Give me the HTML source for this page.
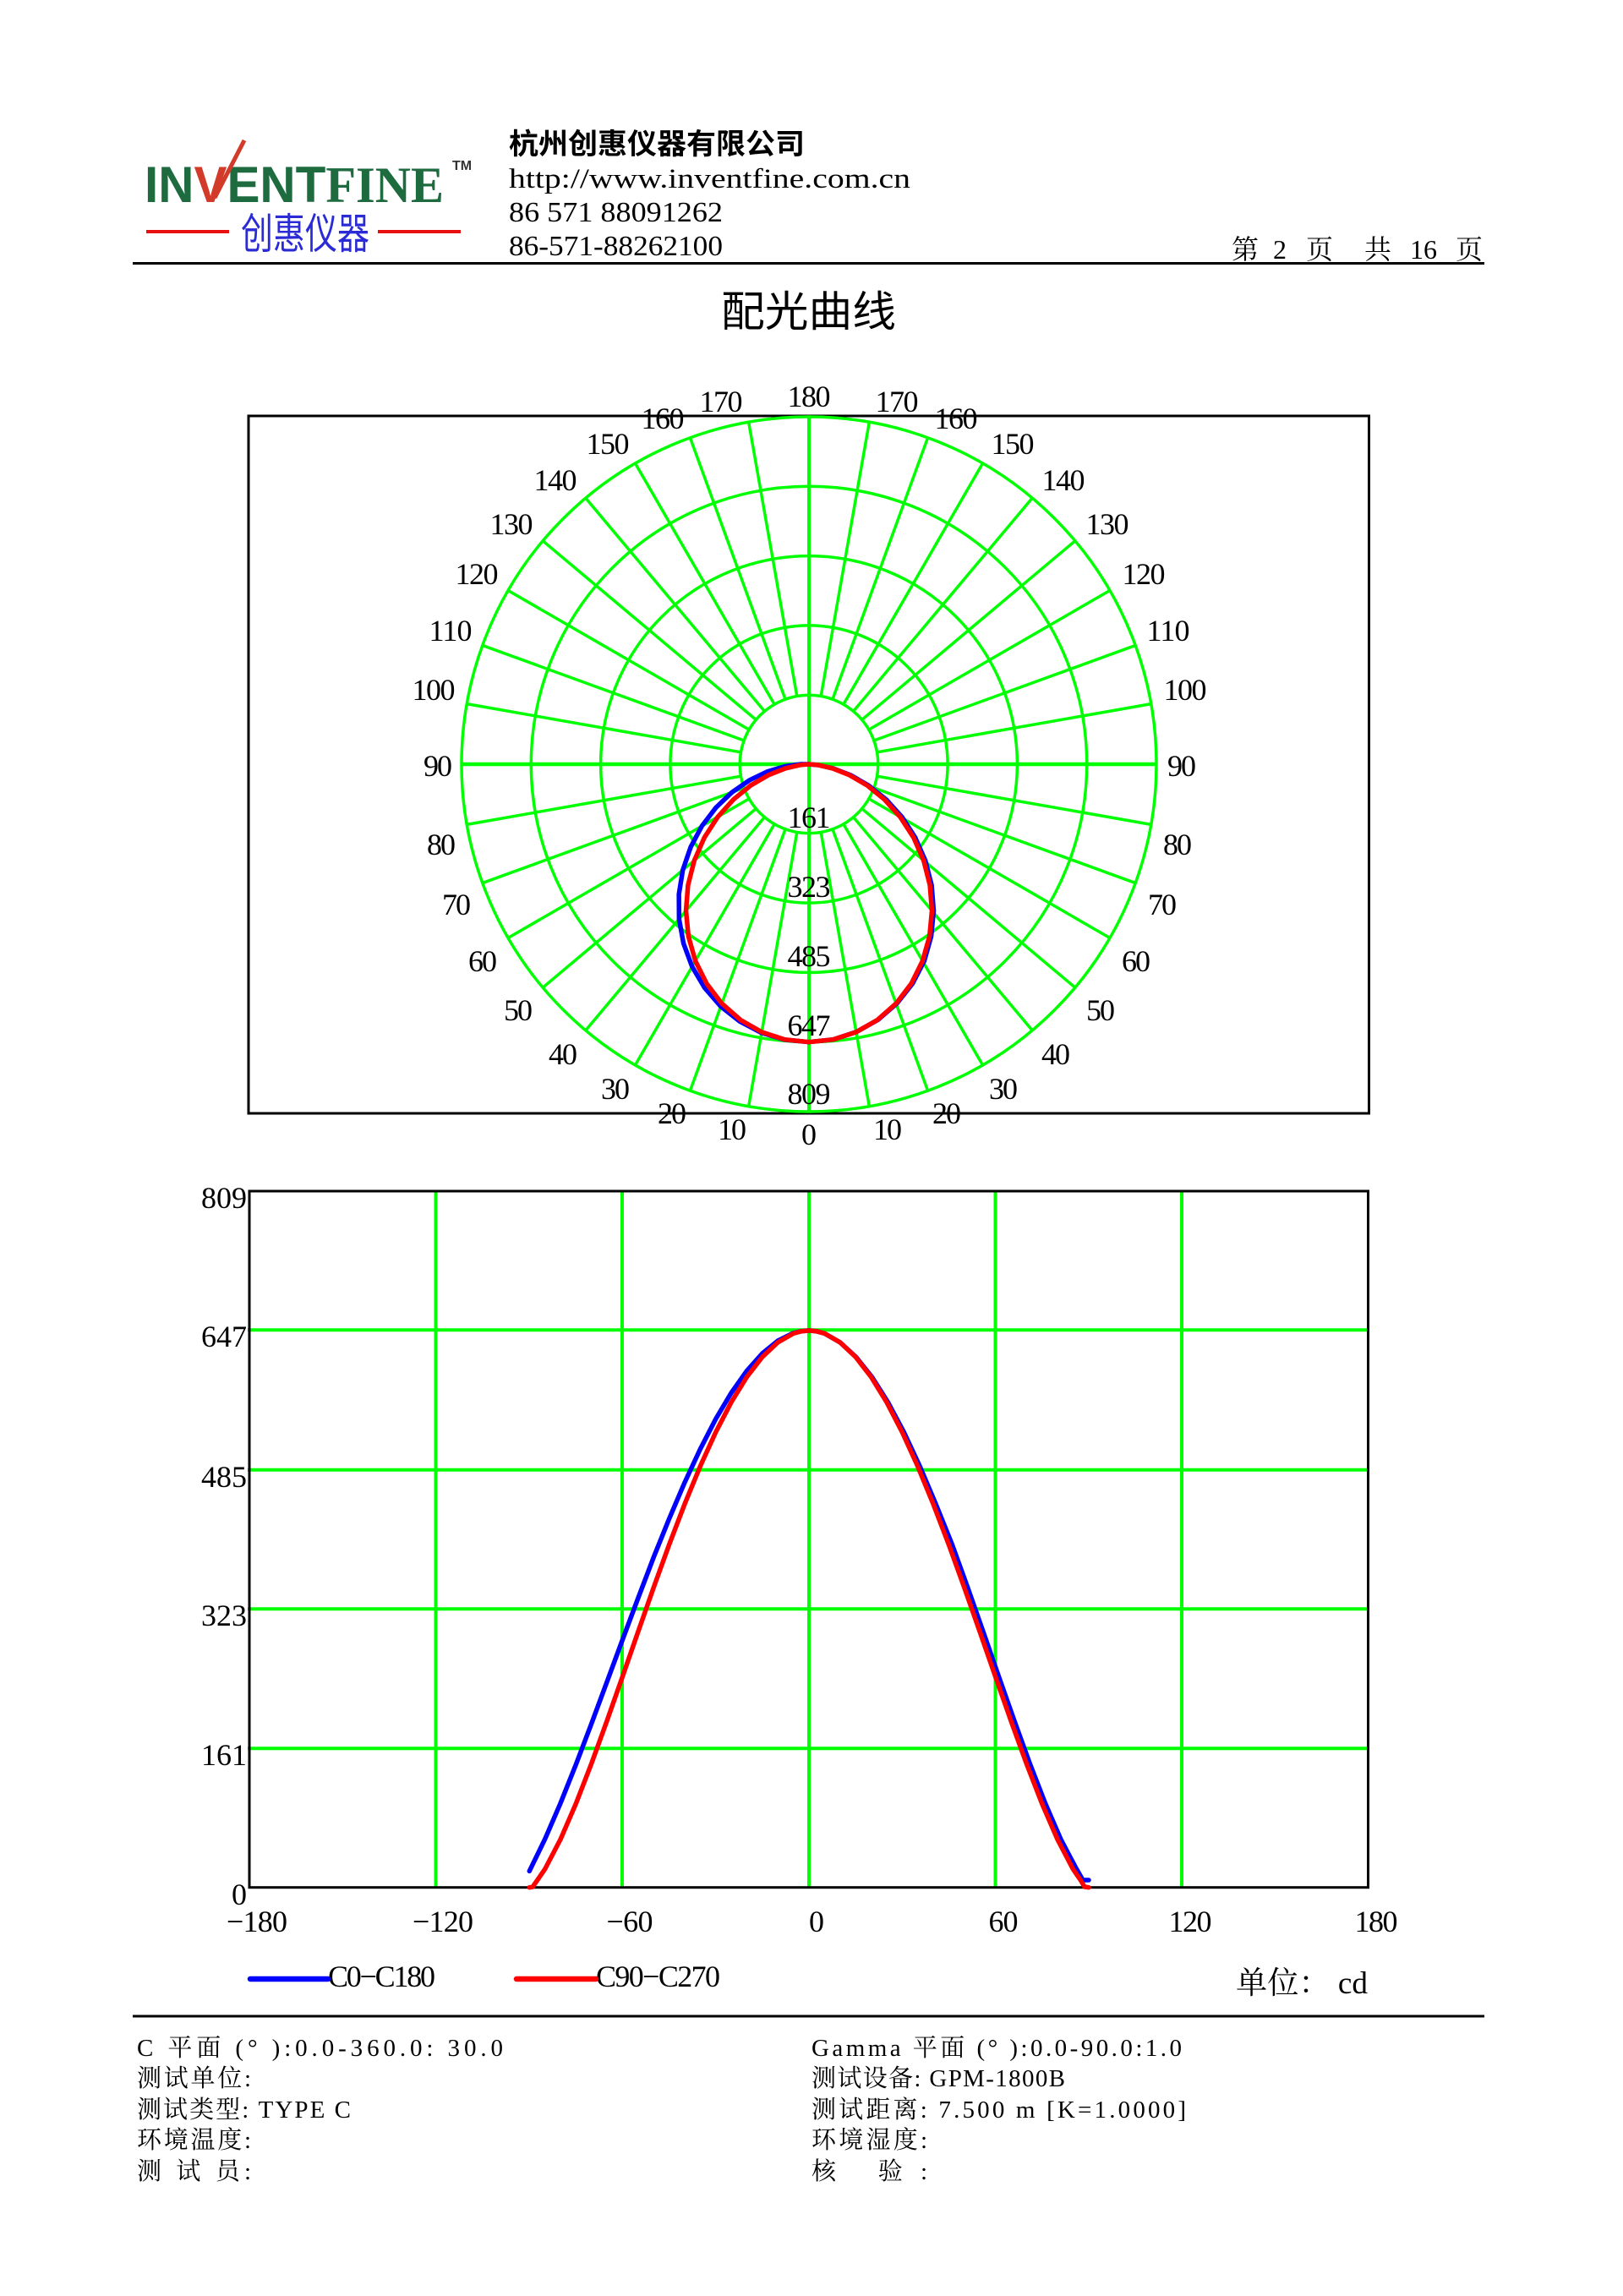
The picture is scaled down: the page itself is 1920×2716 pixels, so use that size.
<!DOCTYPE html>
<html><head><meta charset="utf-8"><style>
html,body{margin:0;padding:0;background:#fff;}
svg{display:block;}
</style></head><body>
<svg xmlns="http://www.w3.org/2000/svg" width="1920" height="2716" viewBox="0 0 1920 2716">
<rect width="1920" height="2716" fill="#fff"/>

<!-- Logo -->
<text x="171" y="239" font-family="'Liberation Sans',sans-serif" font-weight="bold" font-size="60" textLength="354" lengthAdjust="spacingAndGlyphs" fill="#1e6b40">IN<tspan fill="#d23a2a">V</tspan>ENT<tspan font-family="'Liberation Serif',serif">FINE</tspan></text>
<line x1="254" y1="234" x2="289" y2="166" stroke="#d23a2a" stroke-width="5"/>
<text x="535" y="201" font-family="'Liberation Sans',sans-serif" font-weight="bold" font-size="16" fill="#333">TM</text>
<rect x="173" y="272" width="98" height="4" fill="#e81010"/>
<rect x="447" y="272" width="98" height="4" fill="#e81010"/>
<text x="285" y="294" font-family="'Noto Sans CJK SC',sans-serif" font-size="50" textLength="152" lengthAdjust="spacingAndGlyphs" fill="#2b2bd6">创惠仪器</text>

<!-- Header text -->
<text x="602" y="182" font-family="'Liberation Sans','Noto Sans CJK SC',sans-serif" font-weight="bold" font-size="34" textLength="350" lengthAdjust="spacingAndGlyphs">杭州创惠仪器有限公司</text>
<text x="602" y="222" font-family="'Liberation Serif',serif" font-size="33" textLength="475" lengthAdjust="spacingAndGlyphs">http://www.inventfine.com.cn</text>
<text x="602" y="262" font-family="'Liberation Serif',serif" font-size="34" textLength="253" lengthAdjust="spacingAndGlyphs">86 571 88091262</text>
<text x="602" y="302" font-family="'Liberation Serif',serif" font-size="34" textLength="253" lengthAdjust="spacingAndGlyphs">86-571-88262100</text>
<g font-family="'Liberation Serif','Noto Serif CJK SC',serif" font-size="32">
<text x="1457" y="306">第</text>
<text x="1506" y="306">2</text>
<text x="1545" y="306">页</text>
<text x="1614" y="306">共</text>
<text x="1668" y="306">16</text>
<text x="1722" y="306">页</text>
</g>
<rect x="157" y="310" width="1599" height="3" fill="#000"/>

<text x="956.5" y="386" text-anchor="middle" font-family="'Liberation Sans','Noto Sans CJK SC',sans-serif" font-size="50" textLength="207" lengthAdjust="spacingAndGlyphs">配光曲线</text>

<!-- Polar chart -->
<rect x="294" y="492" width="1325.5" height="825" fill="none" stroke="#000" stroke-width="3"/>
<g transform="translate(957,904)" stroke="#00ff00" stroke-width="3.5" fill="none">
<circle r="81.8"/><circle r="164.1"/><circle r="246.4"/><circle r="328.7"/><circle r="411"/>
<line x1="-411" y1="0" x2="411" y2="0" stroke-width="4.5"/>
<line x1="0" y1="-411" x2="0" y2="411" stroke-width="4"/>
<line x1="0" y1="81.8" x2="0" y2="411" transform="rotate(10)"/>
<line x1="0" y1="81.8" x2="0" y2="411" transform="rotate(20)"/>
<line x1="0" y1="81.8" x2="0" y2="411" transform="rotate(30)"/>
<line x1="0" y1="81.8" x2="0" y2="411" transform="rotate(40)"/>
<line x1="0" y1="81.8" x2="0" y2="411" transform="rotate(50)"/>
<line x1="0" y1="81.8" x2="0" y2="411" transform="rotate(60)"/>
<line x1="0" y1="81.8" x2="0" y2="411" transform="rotate(70)"/>
<line x1="0" y1="81.8" x2="0" y2="411" transform="rotate(80)"/>
<line x1="0" y1="81.8" x2="0" y2="411" transform="rotate(100)"/>
<line x1="0" y1="81.8" x2="0" y2="411" transform="rotate(110)"/>
<line x1="0" y1="81.8" x2="0" y2="411" transform="rotate(120)"/>
<line x1="0" y1="81.8" x2="0" y2="411" transform="rotate(130)"/>
<line x1="0" y1="81.8" x2="0" y2="411" transform="rotate(140)"/>
<line x1="0" y1="81.8" x2="0" y2="411" transform="rotate(150)"/>
<line x1="0" y1="81.8" x2="0" y2="411" transform="rotate(160)"/>
<line x1="0" y1="81.8" x2="0" y2="411" transform="rotate(170)"/>
<line x1="0" y1="81.8" x2="0" y2="411" transform="rotate(-10)"/>
<line x1="0" y1="81.8" x2="0" y2="411" transform="rotate(-20)"/>
<line x1="0" y1="81.8" x2="0" y2="411" transform="rotate(-30)"/>
<line x1="0" y1="81.8" x2="0" y2="411" transform="rotate(-40)"/>
<line x1="0" y1="81.8" x2="0" y2="411" transform="rotate(-50)"/>
<line x1="0" y1="81.8" x2="0" y2="411" transform="rotate(-60)"/>
<line x1="0" y1="81.8" x2="0" y2="411" transform="rotate(-70)"/>
<line x1="0" y1="81.8" x2="0" y2="411" transform="rotate(-80)"/>
<line x1="0" y1="81.8" x2="0" y2="411" transform="rotate(-100)"/>
<line x1="0" y1="81.8" x2="0" y2="411" transform="rotate(-110)"/>
<line x1="0" y1="81.8" x2="0" y2="411" transform="rotate(-120)"/>
<line x1="0" y1="81.8" x2="0" y2="411" transform="rotate(-130)"/>
<line x1="0" y1="81.8" x2="0" y2="411" transform="rotate(-140)"/>
<line x1="0" y1="81.8" x2="0" y2="411" transform="rotate(-150)"/>
<line x1="0" y1="81.8" x2="0" y2="411" transform="rotate(-160)"/>
<line x1="0" y1="81.8" x2="0" y2="411" transform="rotate(-170)"/>
</g>

<g font-family="'Liberation Serif',serif" font-size="36" text-anchor="middle" fill="#000" lengthAdjust="spacingAndGlyphs">
<text x="957" y="481" textLength="51">180</text>
<text x="1061" y="487" textLength="51">170</text>
<text x="1131" y="507" textLength="51">160</text>
<text x="1198" y="537" textLength="51">150</text>
<text x="1258" y="580" textLength="51">140</text>
<text x="1310" y="632" textLength="51">130</text>
<text x="1353" y="691" textLength="51">120</text>
<text x="1382" y="758" textLength="51">110</text>
<text x="1402" y="828" textLength="51">100</text>
<text x="1398" y="918" textLength="34">90</text>
<text x="1393" y="1011" textLength="34">80</text>
<text x="1375" y="1082" textLength="34">70</text>
<text x="1344" y="1149" textLength="34">60</text>
<text x="1302" y="1207" textLength="34">50</text>
<text x="1249" y="1259" textLength="34">40</text>
<text x="1187" y="1300" textLength="34">30</text>
<text x="1120" y="1329" textLength="34">20</text>
<text x="1050" y="1348" textLength="34">10</text>
<text x="957" y="1354" textLength="17">0</text>
<text x="853" y="487" textLength="51">170</text>
<text x="784" y="507" textLength="51">160</text>
<text x="719" y="537" textLength="51">150</text>
<text x="657" y="580" textLength="51">140</text>
<text x="605" y="632" textLength="51">130</text>
<text x="564" y="691" textLength="51">120</text>
<text x="533" y="758" textLength="51">110</text>
<text x="513" y="828" textLength="51">100</text>
<text x="518" y="918" textLength="34">90</text>
<text x="522" y="1011" textLength="34">80</text>
<text x="540" y="1082" textLength="34">70</text>
<text x="571" y="1149" textLength="34">60</text>
<text x="613" y="1207" textLength="34">50</text>
<text x="666" y="1259" textLength="34">40</text>
<text x="728" y="1300" textLength="34">30</text>
<text x="795" y="1329" textLength="34">20</text>
<text x="866" y="1348" textLength="34">10</text>
<text x="957" y="979" textLength="51">161</text>
<text x="957" y="1061" textLength="51">323</text>
<text x="957" y="1143" textLength="51">485</text>
<text x="957" y="1225" textLength="51">647</text>
<text x="957" y="1306" textLength="51">809</text>
</g>

<polyline fill="none" stroke="#0000ff" stroke-width="5.5" stroke-linejoin="round" stroke-linecap="round" points="957,904 947.37,904 928.68,906.48 908.08,912.62 886.83,922.8 866.07,937.1 846.96,955.31 830.33,977.14 817.1,1001.96 807.73,1029.25 803.15,1057.85 803.34,1087.12 808.57,1115.98 818.75,1143.45 833.62,1168.59 852.71,1190.53 875.42,1208.47 900.97,1221.77 928.48,1229.94 957,1232.7 985.5,1229.7 1012.9,1220.8 1038.5,1206.5 1061,1187.1 1079.5,1163.6 1093.4,1136.7 1101.6,1107.6 1104.5,1077.4 1102.1,1047.1 1094.6,1017.8 1082.6,990.6 1066.9,966.3 1048.2,945.6 1027.3,929 1006,916.8 985.5,908.9 968,905 957,904"/>
<polyline fill="none" stroke="#ff0000" stroke-width="5.5" stroke-linejoin="round" stroke-linecap="round" points="957,904 946.25,904.94 929.1,908.92 909.14,916.82 888.22,929.03 867.79,945.6 849.14,966.28 833.35,990.58 821.37,1017.81 813.93,1047.07 811.52,1077.38 814.41,1107.64 822.63,1136.74 835.96,1163.58 853.95,1187.12 875.96,1206.46 901.13,1220.84 928.5,1229.7 957,1232.7 985.5,1229.7 1012.87,1220.84 1038.04,1206.46 1060.05,1187.12 1078.04,1163.58 1091.37,1136.74 1099.59,1107.64 1102.48,1077.38 1100.07,1047.07 1092.63,1017.81 1080.65,990.58 1064.86,966.28 1046.21,945.6 1025.78,929.03 1004.86,916.82 984.9,908.92 967.75,904.94 957,904"/>

<!-- Cartesian chart -->
<g stroke="#00ff00" stroke-width="4">
<line x1="515.5" y1="1409" x2="515.5" y2="2232.7"/>
<line x1="736" y1="1409" x2="736" y2="2232.7"/>
<line x1="957" y1="1409" x2="957" y2="2232.7"/>
<line x1="1177.5" y1="1409" x2="1177.5" y2="2232.7"/>
<line x1="1398" y1="1409" x2="1398" y2="2232.7"/>
<line x1="293" y1="1573.3" x2="1619" y2="1573.3"/>
<line x1="293" y1="1738.7" x2="1619" y2="1738.7"/>
<line x1="293" y1="1903.3" x2="1619" y2="1903.3"/>
<line x1="293" y1="2068.3" x2="1619" y2="2068.3"/>
</g>
<rect x="295" y="1409" width="1323.5" height="823.7" fill="none" stroke="#000" stroke-width="3"/>

<g font-family="'Liberation Serif',serif" font-size="36" fill="#000" lengthAdjust="spacingAndGlyphs">
<text x="292" y="1429" text-anchor="end" textLength="54">809</text>
<text x="292" y="1593" text-anchor="end" textLength="54">647</text>
<text x="292" y="1759" text-anchor="end" textLength="54">485</text>
<text x="292" y="1923" text-anchor="end" textLength="54">323</text>
<text x="292" y="2088" text-anchor="end" textLength="54">161</text>
<text x="292" y="2253" text-anchor="end" textLength="17">0</text>
<text x="304" y="2285" text-anchor="middle" textLength="72">−180</text>
<text x="524" y="2285" text-anchor="middle" textLength="72">−120</text>
<text x="745" y="2285" text-anchor="middle" textLength="55">−60</text>
<text x="966" y="2285" text-anchor="middle" textLength="17">0</text>
<text x="1187" y="2285" text-anchor="middle" textLength="35">60</text>
<text x="1408" y="2285" text-anchor="middle" textLength="51">120</text>
<text x="1628" y="2285" text-anchor="middle" textLength="51">180</text>
<text x="388" y="2350" textLength="127">C0−C180</text>
<text x="705" y="2350" textLength="147">C90−C270</text>
</g>

<polyline fill="none" stroke="#0000ff" stroke-width="5.5" stroke-linejoin="round" stroke-linecap="round" points="626.25,2213.4 644.6,2175.7 663,2133.2 681.4,2087.1 699.75,2038.8 718.1,1989.3 736.5,1939.5 754.9,1890.4 773.25,1842.1 791.6,1796.6 810,1753.6 828.4,1714.1 846.75,1678.5 865.1,1647.6 883.5,1621.6 901.9,1600.9 920.25,1586 938.6,1576.9 947.8,1574.7 957,1573.9 966.2,1574.8 975.4,1577.4 993.75,1587.9 1012.6,1605.1 1031.5,1628.8 1050.4,1658.7 1069.25,1694.1 1088.1,1734.4 1107,1779.1 1126.4,1827.2 1144.75,1877.9 1163.1,1930.2 1181.5,1983.1 1199.9,2035.4 1218.25,2086 1236.6,2133.4 1255,2175.9 1273,2210 1281,2224 1288,2224"/>
<polyline fill="none" stroke="#ff0000" stroke-width="5.5" stroke-linejoin="round" stroke-linecap="round" points="626.25,2232.7 630,2232.2 635.4,2224.5 644.6,2211.1 663,2175.9 681.4,2133.4 699.75,2086 718.1,2035.4 736.5,1983.1 754.9,1930.2 773.25,1877.9 791.6,1827.2 810,1779.1 828.4,1734.4 846.75,1694.1 865.1,1658.7 883.5,1628.8 901.9,1605.1 920.25,1587.9 938.6,1577.4 947.8,1574.8 957,1573.9 966.2,1574.8 975.4,1577.4 993.75,1587.9 1012.1,1605.1 1030.5,1628.8 1048.9,1658.7 1067.25,1694.1 1085.6,1734.4 1104,1779.1 1122.4,1827.2 1140.75,1877.9 1159.1,1930.2 1177.5,1983.1 1195.9,2035.4 1214.25,2086 1232.6,2133.4 1251,2175.9 1269.4,2211.1 1278.6,2224.5 1283,2232 1288,2232.7"/>

<!-- Legend -->
<line x1="296" y1="2341" x2="388" y2="2341" stroke="#0000ff" stroke-width="6.5" stroke-linecap="round"/>
<line x1="611" y1="2341" x2="705" y2="2341" stroke="#ff0000" stroke-width="6.5" stroke-linecap="round"/>
<text x="1462" y="2358" font-family="'Liberation Serif','Noto Serif CJK SC',serif" font-size="37" textLength="156" lengthAdjust="spacingAndGlyphs">单位： cd</text>

<rect x="157" y="2383.5" width="1599" height="3" fill="#000"/>

<!-- Bottom info -->
<g font-family="'Liberation Serif','Noto Serif CJK SC',serif" font-size="29" fill="#000" lengthAdjust="spacingAndGlyphs">
<text x="162" y="2432" textLength="433">C 平面 (° ):0.0-360.0: 30.0</text>
<text x="162" y="2468" textLength="135">测试单位:</text>
<text x="162" y="2505" textLength="253">测试类型: TYPE C</text>
<text x="162" y="2541" textLength="135">环境温度:</text>
<text x="162" y="2578" textLength="135">测 试 员:</text>
<text x="960" y="2432" textLength="438">Gamma 平面 (° ):0.0-90.0:1.0</text>
<text x="960" y="2468" textLength="300">测试设备: GPM-1800B</text>
<text x="960" y="2505" textLength="443">测试距离: 7.500 m [K=1.0000]</text>
<text x="960" y="2541" textLength="137">环境湿度:</text>
<text x="960" y="2578" textLength="137">核    验:</text>
</g>
</svg>
</body></html>
